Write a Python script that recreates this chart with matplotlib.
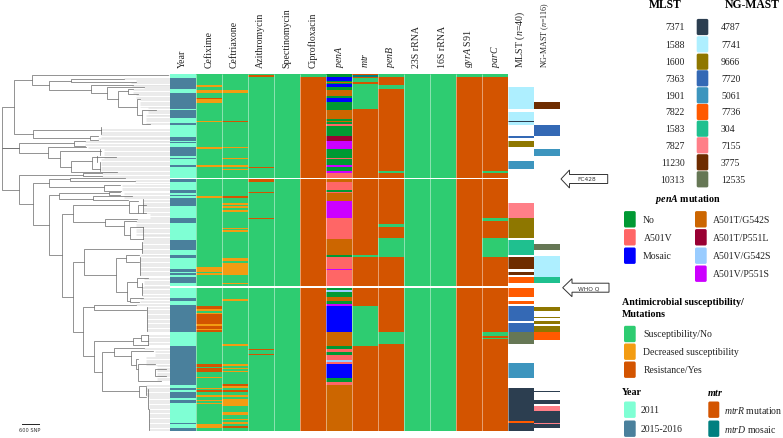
import matplotlib
matplotlib.use("Agg")
import matplotlib.pyplot as plt
from matplotlib.patches import FancyBboxPatch, Polygon

plt.rcParams['font.family'] = ['Liberation Serif', 'DejaVu Serif']
plt.rcParams['mathtext.fontset'] = 'custom'
plt.rcParams['mathtext.rm'] = 'Liberation Serif'
plt.rcParams['mathtext.it'] = 'Liberation Serif:italic'
plt.rcParams['mathtext.bf'] = 'Liberation Serif:bold'
plt.rcParams['mathtext.bfit'] = 'Liberation Serif:italic:bold'

# ---------- categories ----------
S, D, R = 'Susceptibility/No', 'Decreased susceptibility', 'Resistance/Yes'
Y11, Y15 = '2011', '2015-2016'
NO, V, MO, TG, TL, VG, VS = 'No', 'A501V', 'Mosaic', 'A501T/G542S', 'A501T/P551L', 'A501V/G542S', 'A501V/P551S'
MT, MD = 'mtrR mutation', 'mtrD mosaic'

column_labels = ['Year', 'Cefixime', 'Ceftriaxone', 'Azithromycin', 'Spectinomycin', 'Ciprofloxacin',
                 r'$\mathit{penA}$', r'$\mathit{mtr}$', r'$\mathit{penB}$', '23S rRNA', '16S rRNA',
                 r'$\mathit{gyrA}$ S91', r'$\mathit{parC}$', r'MLST ($\mathit{n}$=40)',
                 r'NG-MAST ($\mathit{n}$=116)']

mlst_types = ['7371', '1588', '1600', '7363', '1901', '7822', '1583', '7827', '11230', '10313']
ngmast_types = ['4787', '7741', '9666', '7720', '5061', '7736', '304', '7155', '3775', '12535']
type_colors = ['#2c3e50', '#aeefff', '#8e7700', '#3469b5', '#3d95be', '#ff5a00', '#1fc08f', '#ff7f88', '#6e2c00', '#667755']

colors = {S: '#2ecc71', D: '#f39c12', R: '#d35400', Y11: '#7fffd4', Y15: '#4a809c',
          NO: '#009933', V: '#ff6666', MO: '#0000ff', TG: '#cc6600', TL: '#990033', VG: '#99ccff', VS: '#cc00ff',
          MT: '#d35400', MD: '#008080'}
for m, c in zip(mlst_types, type_colors):
    colors['M' + m] = c
for n, c in zip(ngmast_types, type_colors):
    colors['N' + n] = c

# ---------- isolate table: (first row, last row, state), rows counted from the top ----------
n_rows = 356.4
gap_rows = [(103.7, 105), (211.7, 213.3)]

year_default = Y11
year_runs = [(3.3, 14.3), (19, 34.3), (35.7, 43.3), (48.3, 51), (62.3, 66.3), (67.7, 69), (73, 82), (83.7, 85),
             (91, 92.7), (105, 108), (116, 119), (120.7, 121.7), (124, 131.3), (144, 148.3), (165.3, 176),
             (181, 183.7), (195, 197.3), (199, 201), (202.7, 208.3), (224, 227), (230.3, 257.7), (271.3, 310.3),
             (313.3, 316), (318, 324), (326, 328.3), (349, 350), (354, 356.4)]

cefixime_runs = [(11, 12.7, D), (16, 19, D), (23.3, 25, R), (25, 28.3, D), (46.7, 48, D), (73, 74.7, D), (91, 92.7, D),
                 (122, 124, D), (193, 197.7, D), (199, 200.7, D), (231.7, 234.7, R), (235, 236.7, D), (238.3, 239.7, D),
                 (240, 250, R), (250, 252, D), (252, 254.7, R), (254.7, 256, D), (256, 257.7, R), (290, 292.3, R),
                 (293.3, 298, R), (302.3, 303.7, D), (313.3, 315, D), (316, 317.7, R), (321, 322.7, D), (326, 327, D),
                 (328.7, 330, D), (350, 353.3, D)]

ceftriaxone_runs = [(16, 19, D), (46.7, 48, R), (73, 74, D), (83.3, 84.7, D), (91, 93, D), (94.3, 96, D), (122, 124, R),
                    (128.3, 130.3, D), (131.7, 133.3, D), (136, 137.7, D), (153.3, 154.7, D), (156, 158, D), (184, 186.7, D),
                    (188.3, 200.7, D), (208.3, 210, D), (225, 227, D), (270, 271.7, D), (290, 291.7, D), (293.3, 294.7, D),
                    (296.3, 298, D), (310, 311.7, R), (311.7, 314, D), (316, 317.7, R), (321, 322.7, D), (324.3, 331.7, D),
                    (337.7, 341, D), (344.3, 345.7, D), (347.3, 349.3, D), (351.7, 353.3, R)]

azithromycin_runs = [(0.3, 2.7, R), (92.3, 94, R), (105, 108, R), (117.7, 119, R), (144, 145, R), (275, 276, R), (279.7, 281, R)]

cipro_runs = [(0, 3, S)]
gyra_runs = [(0, 3, S)]

pena_runs = [(3, 6.7, MO), (7.7, 8.7, TG), (9.7, 12.3, MO), (16, 21.7, TG), (23.3, 28, MO), (35.7, 45, TG), (46.7, 48, TG),
             (50, 51.3, V), (62, 66.7, TL), (66.7, 74.3, VS), (83.3, 85, V), (90.3, 92.3, VS), (97, 99, VS), (99, 103.7, V),
             (105, 108, TG), (108, 116, V), (117.7, 118.3, V), (118.3, 126.7, TG), (126.7, 144, VS), (144, 165, V),
             (165, 181, TG), (182.3, 194.7, V), (194.7, 196, VS), (196, 211.7, V), (216, 217.7, VG), (222.3, 227, TG),
             (230, 231.7, VS), (231.7, 257.7, MO), (257.7, 271.7, TG), (275, 277.3, V), (281, 285.7, V), (285.7, 287.7, VG),
             (287.7, 289.3, V), (289.3, 304, MO), (307.3, 310.3, V), (310.3, 356.4, TG)]

mtr_runs = [(0.3, 2.7, MD), (3.3, 7.7, S), (10, 34.3, S), (181, 182.3, S), (231.7, 271.7, S)]
penb_runs = [(0, 3, S), (11, 14.3, S), (97, 99, S), (150, 153, S), (164, 182.3, S), (257.7, 270, S)]
parc_runs = [(0, 3, S), (97, 98.7, S), (144, 146.7, S), (164, 182.3, S), (257.7, 262, S), (263.3, 265, S)]

mlst_runs = [(12.7, 34.3, '1588'), (37.3, 46.7, '1588'), (46.7, 48, '7371'), (48, 51, '1588'), (62, 63.3, '7363'),
             (66.7, 72.7, '1600'), (86.7, 94.3, '1901'), (128.3, 144, '7827'), (144, 164, '1600'), (165.3, 181, '1583'),
             (182.3, 195, '11230'), (197.7, 201, '11230'), (202.3, 208.7, '7822'), (213.3, 222.3, '7822'), (227, 230, '7822'),
             (231.7, 246.7, '7363'), (248.7, 257.7, '7363'), (257.7, 270, '10313'), (288.7, 304, '1901'),
             (313.3, 346.7, '7371'), (346.7, 349, '7822'), (349, 356.4, '7371')]

ngmast_runs = [(28, 34.3, '3775'), (51, 62, '7720'), (74.3, 82, '5061'), (170, 176, '12535'), (182, 198.3, '7741'),
               (199, 202.3, '7741'), (202.3, 208.7, '304'), (232.7, 236.3, '9666'), (242.3, 244, '9666'), (246.7, 250, '9666'),
               (251.7, 257.7, '9666'), (257.7, 265.7, '7736'), (316.3, 318, '4787'), (325.7, 329.3, '4787'),
               (331.7, 336.7, '7155'), (336.7, 349, '4787'), (349, 350, '7155'), (350, 353.3, '4787')]

# ---------- phylogeny: (node depth, top child row, bottom child row, top child depth, bottom child depth) ----------
tree_nodes = [
    (1.5, 108.3, 190.7, 14, 19), (1.5, 149.3, 149.3, 18.5, 18.5), (14, 80.7, 134.7, 32.3, 33.3), (32.3, 76, 85.7, 167.7, 49.3),
    (49.3, 81.7, 90.7, 71, 91.3), (71, 80, 83.3, 124, 136), (91.3, 86, 94.3, 132.7, 107.3), (107.3, 88.3, 100, 144, 118.3),
    (118.3, 92.3, 107.7, 128.3, 136.7), (128.3, 90, 95, 133, 138), (136.7, 100, 115.7, 140, 141.7), (141.7, 111, 125, 155.7, 150),
    (33.3, 130.7, 139, 100.7, 90), (90, 137.3, 140.7, 97.7, 97.7), (18.5, 144.3, 154.3, 74, 48.3), (74, 142.3, 146.7, 85, 85),
    (48.3, 148.3, 159.3, 86, 60), (60, 151.7, 167.7, 100.7, 70.7), (70.7, 161.7, 173.3, 91.7, 116.7), (91.7, 157.7, 170, 115.7, 100),
    (19, 176, 205, 83.3, 33.3), (83.3, 174, 177.3, 101.7, 101.7), (33.3, 184, 225.7, 49.3, 49.3), (49.3, 180, 188.3, 70, 104),
    (70, 179, 181.7, 125, 135), (104, 186, 191.7, 120, 120.7), (49.3, 196, 256, 59.3, 61.7), (59.3, 194.3, 200, 109.3, 93.3),
    (109.3, 192.7, 196, 120, 120), (93.3, 197.3, 200.7, 131.7, 128.3), (61.7, 215, 298.3, 72.7, 73.3), (72.7, 206, 223.3, 129.3, 105.3),
    (129.3, 201.7, 214, 138.3, 138.3), (138.3, 206, 214, 146, 146), (105.3, 220, 226.7, 136.7, 124), (124, 222.3, 235.7, 136, 130),
    (130, 228.3, 240, 143, 143), (73.3, 263.3, 333.3, 84.3, 83.3), (84.3, 250, 275.7, 141.7, 116), (116, 259.3, 292.7, 125.7, 127.3),
    (125.7, 256, 262.7, 139.3, 139.3), (127.3, 283.3, 301.7, 137.3, 130), (137.3, 279.3, 288.3, 148.3, 141.7), (130, 299, 303.3, 143, 139.3),
    (83.3, 308.3, 357.3, 94.3, 94), (94.3, 305.7, 311, 136, 146), (94, 342.3, 372.7, 133.3, 101.7), (133.3, 339.3, 346, 141, 148),
    (141, 336, 341.7, 147.7, 147.7), (101.7, 353.3, 391.7, 114.3, 139.3), (114.3, 349, 357.3, 144, 130.7), (130.7, 352.3, 366, 153.3, 135.7),
    (135.7, 360, 370, 138.3, 138.3), (138.3, 365, 381.7, 155, 161), (155, 370, 376.7, 165.7, 165.7), (139.3, 386.7, 397.7, 145.7, 145.7),
]
tree_combs = [(100.7, 128, 135), (100, 150, 156), (97, 157, 163), (100, 163, 172), (143, 200, 214), (143, 228, 240), (142, 243, 254),
              (140, 258, 276), (142, 284, 296), (147, 308, 332), (148, 336, 346), (146, 388, 396), (148, 390, 410), (149, 410, 431)]
# leaves: rows from .. to, depth where the pale leader to the table begins
leaf_bands = [(76, 77, 167), (79, 81, 124), (81, 83, 136), (83, 86, 131), (86, 88, 132), (88, 90, 144), (90, 95, 133), (95, 100, 136),
              (100, 108, 140), (108, 116, 148), (116, 126, 146), (130, 139, 101), (139, 142, 98), (142, 147, 85), (148, 150, 88),
              (150, 160, 104), (160, 173, 101), (174, 178, 102), (179, 180, 125), (181, 184, 135), (186, 192, 122), (194, 200, 124),
              (201, 214, 143), (215, 219, 150), (220, 222, 137), (222, 236, 136), (236, 243, 143), (243, 256, 142), (256, 277, 140),
              (279, 288, 144), (288, 298, 142), (299, 303, 140), (305, 307, 136), (308, 333, 147), (336, 346, 148), (349, 351, 144),
              (352, 358, 155), (358, 366, 146), (366, 382, 157), (386, 398, 146), (398, 432, 149)]

# ---------- figure ----------
W, H = 783, 439
fig = plt.figure(figsize=(W / 100, H / 100), dpi=100, facecolor='white')
base = fig.add_axes([0, 0, 1, 1])
base.set_xlim(0, W); base.set_ylim(H, 0); base.axis('off')

# phylogeny and leaders
row_step = 1.27
for top, bot, depth in leaf_bands:
    y = top
    while y < bot:
        base.plot([depth, 169.5], [y, y], color='#e0e0e0', lw=0.45, zorder=1, solid_capstyle='butt')
        y += row_step
for x, yt, yb, xt, xb in tree_nodes:
    base.plot([xt, x, x, xb], [yt, yt, yb, yb], color='#757575', lw=0.55, zorder=2, solid_joinstyle='miter')
for x, yt, yb in tree_combs:
    base.plot([x, x], [yt, yb], color='#606060', lw=0.5, zorder=2)
base.plot([22, 38.5], [425.5, 425.5], color='#222222', lw=0.7)
base.text(30, 431, '600 SNP', fontsize=3.6, ha='center', va='center', family='DejaVu Sans', color='#333333')

# table
hm = fig.add_axes([169.7 / W, 1 - 431.7 / H, 390 / W, 356.4 / H])
hm.set_xlim(0, 15); hm.set_ylim(n_rows, 0); hm.axis('off'); hm.patch.set_alpha(0)

def draw(col, default, runs, prefix=''):
    if default is not None:
        hm.bar(col, n_rows, width=1, bottom=0, align='edge', color=colors[default], lw=0)
    for r in runs:
        state = default_alt if len(r) == 2 else prefix + r[2]
        hm.bar(col, r[1] - r[0], width=1, bottom=r[0], align='edge', color=colors[state], lw=0)

default_alt = Y15
draw(0, year_default, year_runs)
draw(1, S, cefixime_runs)
draw(2, S, ceftriaxone_runs)
draw(3, S, azithromycin_runs)
draw(4, S, [])
draw(5, R, cipro_runs)
draw(6, NO, pena_runs)
draw(7, MT, mtr_runs)
draw(8, R, penb_runs)
draw(9, S, [])
draw(10, S, [])
draw(11, R, gyra_runs)
draw(12, R, parc_runs)
draw(13, None, mlst_runs, 'M')
draw(14, None, ngmast_runs, 'N')
for a, b in gap_rows:
    hm.bar(0, b - a, width=13, bottom=a, align='edge', color='white', lw=0, zorder=3)
hm.vlines(range(1, 14), 0, n_rows, color='white', lw=0.7, alpha=0.45, zorder=2)

# column headers
for i, lab in enumerate(column_labels):
    cx = 182.5 + i * 26 + ([0, 1, 0, 0, 0, 0, 0.5, 0.5, 0, 0, 0, 0, 0.5, 0, -1][i])
    base.text(cx, 68.5, lab, rotation=90, ha='center', va='bottom', fontsize=5.8 if i == 14 else 7.1, color='#222222')

# swatches
def swatch(x0, x1, yc, color, h=14.4):
    base.add_patch(FancyBboxPatch((x0 + 1, yc - h / 2 + 1), x1 - x0 - 2, h - 2,
                                  boxstyle='round,pad=1,rounding_size=1.6', fc=color, ec='none', zorder=3))

TXT = dict(va='center', color='#222222')
base.text(665, 5.5, 'MLST', fontsize=8.4, fontweight='bold', ha='center', va='center', color='black')
base.text(752.5, 5.5, 'NG-MAST', fontsize=8.4, fontweight='bold', ha='center', va='center', color='black')
type_rows = [28, 45.3, 62.7, 79.3, 96.3, 113, 129.7, 146.3, 163.3, 180.3]
for yy, m, n, c in zip(type_rows, mlst_types, ngmast_types, type_colors):
    swatch(696.7, 708.3, yy, c, h=16.2)
    base.text(684.5, yy, m, fontsize=7, ha='right', **TXT)
    base.text(721, yy, n, fontsize=7, ha='left', **TXT)

base.text(688, 200, r'$\mathbfit{penA}$ mutation', fontsize=7.2, fontweight='bold', ha='center', va='center', color='black')
for yy, lab, lx in zip([220.3, 238.3, 256.7], [NO, V, MO], [642.7, 643.5, 642.3]):
    swatch(624, 635.7, yy, colors[lab], h=16.4)
    base.text(lx, yy, lab, fontsize=7, ha='left', **TXT)
for yy, lab in zip([220.3, 238.3, 256.7, 274.7], [TG, TL, VG, VS]):
    swatch(695, 706.7, yy, colors[lab], h=16.4)
    base.text(713.3, yy, lab, fontsize=7, ha='left', **TXT)

base.text(622.3, 302.3, 'Antimicrobial susceptibility/', fontsize=7.2, fontweight='bold', ha='left', va='center', color='black')
base.text(622.3, 315, 'Mutations', fontsize=7.2, fontweight='bold', ha='left', va='center', color='black')
for yy, lab in zip([335, 352.7, 370.7], [S, D, R]):
    swatch(624, 635.7, yy, colors[lab], h=16.4)
    base.text(643.3, yy, lab, fontsize=7, ha='left', **TXT)

base.text(622.3, 392.3, 'Year', fontsize=7.2, fontweight='bold', ha='left', va='center', color='black')
base.text(707.3, 392.3, r'$\mathbfit{mtr}$', fontsize=7.2, fontweight='bold', ha='left', va='center', color='black')
for yy, lab in zip([410.7, 429.7], [Y11, Y15]):
    swatch(624, 635.7, yy, colors[lab], h=16.4)
    base.text(641, yy, lab, fontsize=7, ha='left', **TXT)
for yy, key, lab in zip([410.7, 429.7], [MT, MD], [r'$\mathit{mtrR}$ mutation', r'$\mathit{mtrD}$ mosaic']):
    swatch(708.3, 719.3, yy, colors[key], h=16.4)
    base.text(724, yy, lab, fontsize=7, ha='left', **TXT)

# arrows
def arrow(tip, base_x, end, yc, label, tx):
    pts = [(tip, yc), (base_x, yc - 9), (base_x, yc - 4.5), (end, yc - 4.5), (end, yc + 4.5), (base_x, yc + 4.5), (base_x, yc + 9)]
    base.add_patch(Polygon(pts, closed=True, fc='white', ec='#333333', lw=0.7, zorder=4))
    base.text(tx, yc, label, fontsize=4.2, family='DejaVu Sans', ha='center', va='center', color='#333333', zorder=5)

arrow(561, 569.5, 607.7, 180, 'FC428', 586.5)
arrow(562.7, 572, 609, 288.7, 'WHO Q', 589)

fig.savefig('out.png', dpi=100)
